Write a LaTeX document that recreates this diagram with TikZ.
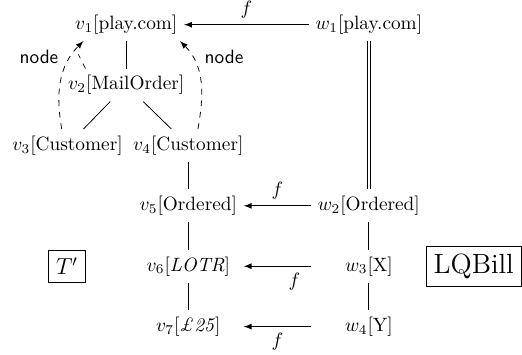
\documentclass[tikz,border=0pt]{standalone}
\begin{document}
\begin{tikzpicture}[>=latex]
\useasboundingbox (0,0) rectangle (9.51,6.45);

% Tree T' on the left
\node (v1) at (2.3,6.0) {$v_1$[play.com]};
\node (v2) at (2.3,4.9) {$v_2$[MailOrder]};
\node (v3) at (1.23,3.8) {$v_3$[Customer]};
\node (v4) at (3.43,3.8) {$v_4$[Customer]};
\node (v5) at (3.43,2.7) {$v_5$[Ordered]};
\node (v6) at (3.43,1.6) {$v_6$[\textit{LOTR}]};
\node (v7) at (3.43,0.5) {$v_7$[\textit{\pounds 25}]};
\draw (v1) -- (v2);
\draw (v2) -- (v3);
\draw (v2) -- (v4);
\draw (v4) -- (v5);
\draw (v5) -- (v6);
\draw (v6) -- (v7);

% Tree LQBill on the right
\node (w1) at (6.72,6.0) {$w_1$[play.com]};
\node (w2) at (6.72,2.7) {$w_2$[Ordered]};
\node (w3) at (6.72,1.6) {$w_3$[X]};
\node (w4) at (6.72,0.5) {$w_4$[Y]};
\draw[double, double distance=1pt] (w1) -- (w2);
\draw (w2) -- (w3);
\draw (w3) -- (w4);

% Tree names
\node[draw, inner sep=4pt] (tp) at (1.22,1.6) {\large $T'$};
\node[draw, inner sep=4pt] (lq) at (8.63,1.6) {\Large LQBill};

% Mapping f
\coordinate (f3) at (w2.west |- w3);
\coordinate (f4) at (w2.west |- w4);
\coordinate (t3) at (v5.east |- v6);
\coordinate (t4) at (v5.east |- v7);
\draw[->] (w1) -- node[above] (m1) {$f$} (v1);
\draw[->] (w2) -- node[above] (m2) {$f$} (v5);
\draw[->] (f3) -- node[below, pos=0.25] (m3) {$f$} (t3);
\draw[->] (f4) -- node[below] (m4) {$f$} (t4);

% Node pointers
\draw[->, dashed] ([xshift=-3pt]v3.north) to[out=100, in=225]
  node[pos=0.8, left=3pt] (n3) {\sffamily node} (v1.201);
\draw[dashed] (v2.158) -- ++(-0.13,0.26);
\draw[->, dashed] ([xshift=5pt]v4.north) to[out=80, in=-45]
  node[pos=0.8, right=3pt] (n4) {\sffamily node} (v1.-17);
\end{tikzpicture}
\end{document}
